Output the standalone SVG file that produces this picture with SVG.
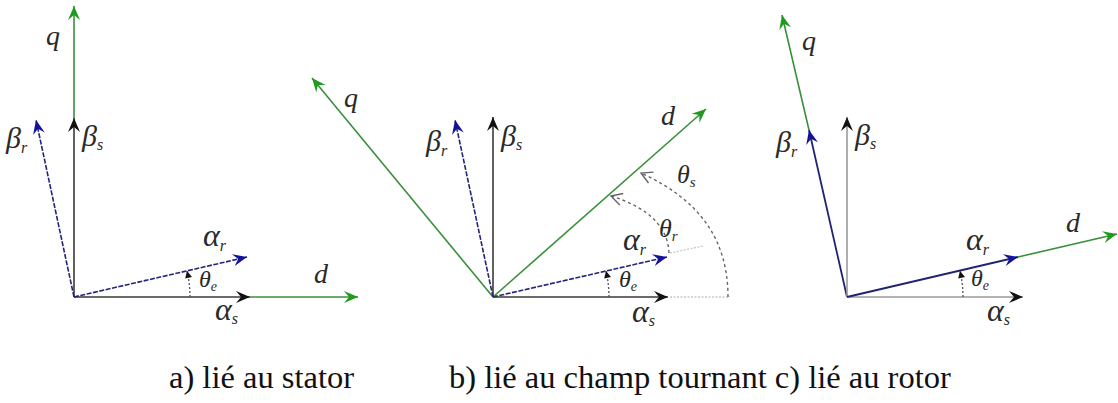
<svg xmlns="http://www.w3.org/2000/svg" width="1118" height="403" viewBox="0 0 1118 403">
<style>
.g{stroke:#3a8f3a;stroke-width:1.6;fill:none}
.k{stroke:#3a3a3a;stroke-width:1.6;fill:none}
.kg{stroke:#9a9a9a;stroke-width:1.6;fill:none}
.bd{stroke:#24247a;stroke-width:1.6;fill:none;stroke-dasharray:5,1.5}
.bs{stroke:#1f2370;stroke-width:1.8;fill:none}
.dot{stroke:#555;stroke-width:1.3;fill:none;stroke-dasharray:2,2}
.dash{stroke:#666;stroke-width:1.4;fill:none;stroke-dasharray:3,3}
.lg{stroke:#c8c8c8;stroke-width:1.3;fill:none;stroke-dasharray:2,1.5}
</style>
<defs>
<marker id="ag" viewBox="-15 -7 16 14" markerWidth="16" markerHeight="14" refX="0" refY="0" markerUnits="userSpaceOnUse" orient="auto"><path d="M0,0 L-14,-6 L-9,0 L-14,6 Z" fill="#1f9a1f"/></marker>
<marker id="ak" viewBox="-15 -7 16 14" markerWidth="16" markerHeight="14" refX="0" refY="0" markerUnits="userSpaceOnUse" orient="auto"><path d="M0,0 L-14,-6 L-9,0 L-14,6 Z" fill="#111"/></marker>
<marker id="ab" viewBox="-15 -7 16 14" markerWidth="16" markerHeight="14" refX="0" refY="0" markerUnits="userSpaceOnUse" orient="auto"><path d="M0,0 L-14,-6 L-9,0 L-14,6 Z" fill="#12129a"/></marker>
<marker id="as" viewBox="-8 -4 9 8" markerWidth="9" markerHeight="8" refX="0" refY="0" markerUnits="userSpaceOnUse" orient="auto"><path d="M0,0 L-7,-3.5 L-7,3.5 Z" fill="#111"/></marker>
<marker id="ao" viewBox="-13 -8 14 16" markerWidth="14" markerHeight="16" refX="0" refY="0" markerUnits="userSpaceOnUse" orient="auto"><path d="M-11,-6 L0,0 L-11,6" fill="none" stroke="#666" stroke-width="1.4"/></marker>
</defs>

<g id="connectors">
<g id="a-axes">
<line class="g" x1="74" y1="118" x2="74" y2="6" marker-end="url(#ag)"/>
<line class="k" x1="74" y1="297" x2="74" y2="118" marker-end="url(#ak)"/>
<line class="bd" x1="74" y1="297" x2="36" y2="120" marker-end="url(#ab)"/>
<line class="g" x1="250" y1="297" x2="358" y2="297" marker-end="url(#ag)"/>
<line class="k" x1="74" y1="297" x2="250" y2="297" marker-end="url(#ak)"/>
<line class="bd" x1="74" y1="297" x2="247" y2="257" marker-end="url(#ab)"/>
<path class="dot" d="M190,297 A116,116 0 0 0 187,271" marker-end="url(#as)"/>
</g>
<g id="b-axes">
<line class="g" x1="493" y1="297" x2="312" y2="78" marker-end="url(#ag)"/>
<line class="g" x1="493" y1="297" x2="706" y2="109" marker-end="url(#ag)"/>
<line class="k" x1="493" y1="297" x2="493" y2="117" marker-end="url(#ak)"/>
<line class="bd" x1="493" y1="297" x2="455" y2="120" marker-end="url(#ab)"/>
<line class="bd" x1="493" y1="297" x2="667" y2="257" marker-end="url(#ab)"/>
<line class="k" x1="493" y1="297" x2="668" y2="297" marker-end="url(#ak)"/>
<line class="lg" x1="670" y1="297" x2="730" y2="297"/>
<line class="lg" x1="670" y1="253" x2="703" y2="246"/>
<path class="dash" d="M728,297 C728,240 700,200 641,173" marker-end="url(#ao)"/>
<path class="dash" d="M669,253 C668,228 650,208 611,196" marker-end="url(#ao)"/>
<path class="dot" d="M609,297 A116,116 0 0 0 606,271" marker-end="url(#as)"/>
</g>
<g id="c-axes">
<line class="g" x1="809" y1="130" x2="782" y2="15" marker-end="url(#ag)"/>
<line class="bs" x1="847" y1="297" x2="809" y2="130" marker-end="url(#ab)"/>
<line class="kg" x1="847" y1="297" x2="847" y2="117" marker-end="url(#ak)"/>
<line class="kg" x1="847" y1="297" x2="1023" y2="297" marker-end="url(#ak)"/>
<line class="g" x1="1018" y1="257" x2="1117" y2="234" marker-end="url(#ag)"/>
<line class="bs" x1="847" y1="297" x2="1018" y2="257" marker-end="url(#ab)"/>
<path class="dot" d="M963,297 A116,116 0 0 0 960,271" marker-end="url(#as)"/>
</g>
</g>

<g id="labels-a" font-family="Liberation Serif, serif" font-style="italic" fill="#2a2a2a">
<text x="46" y="45" font-size="28">q</text>
<text x="6" y="148" font-size="30">β<tspan dy="5" font-size="16">r</tspan></text>
<text x="82" y="146" font-size="30">β<tspan dy="4" font-size="16">s</tspan></text>
<text x="203" y="246" font-size="32">α<tspan dy="5" font-size="16">r</tspan></text>
<text x="199" y="287" font-size="24">θ<tspan dy="4" font-size="14">e</tspan></text>
<text x="314" y="283" font-size="28">d</text>
<text x="215" y="320" font-size="32">α<tspan dy="4" font-size="16">s</tspan></text>
</g>

<g id="labels-b" font-family="Liberation Serif, serif" font-style="italic" fill="#2a2a2a">
<text x="344" y="107" font-size="28">q</text>
<text x="426" y="151" font-size="30">β<tspan dy="5" font-size="16">r</tspan></text>
<text x="501" y="146" font-size="30">β<tspan dy="4" font-size="16">s</tspan></text>
<text x="661" y="125" font-size="28">d</text>
<text x="677" y="183" font-size="26">θ<tspan dy="4" font-size="15">s</tspan></text>
<text x="659" y="237" font-size="26">θ<tspan dy="4" font-size="15">r</tspan></text>
<text x="623" y="250" font-size="32">α<tspan dy="5" font-size="16">r</tspan></text>
<text x="619" y="287" font-size="24">θ<tspan dy="4" font-size="14">e</tspan></text>
<text x="632" y="322" font-size="32">α<tspan dy="4" font-size="16">s</tspan></text>
</g>

<g id="labels-c" font-family="Liberation Serif, serif" font-style="italic" fill="#2a2a2a">
<text x="802" y="50" font-size="28">q</text>
<text x="776" y="152" font-size="30">β<tspan dy="5" font-size="16">r</tspan></text>
<text x="855" y="145" font-size="30">β<tspan dy="4" font-size="16">s</tspan></text>
<text x="1066" y="232" font-size="28">d</text>
<text x="966" y="250" font-size="32">α<tspan dy="5" font-size="16">r</tspan></text>
<text x="971" y="286" font-size="24">θ<tspan dy="4" font-size="14">e</tspan></text>
<text x="987" y="321" font-size="32">α<tspan dy="4" font-size="16">s</tspan></text>
</g>

<g id="captions" font-family="Liberation Serif, serif" fill="#111" font-size="32.5">
<text x="169" y="388">a) lié au stator</text>
<text x="449" y="388">b) lié au champ tournant c) lié au rotor</text>
</g>
</svg>
